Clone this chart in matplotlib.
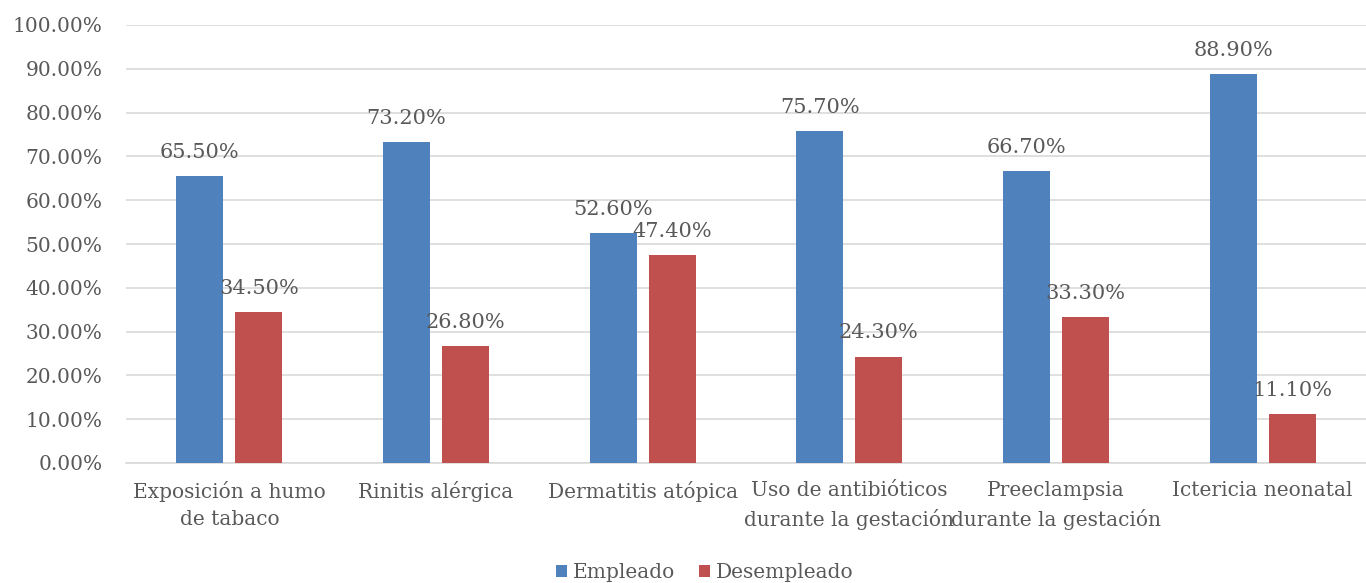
import numpy as np
import matplotlib.pyplot as plt
from matplotlib.ticker import PercentFormatter

# categories and percentages per employment status
categorias = ['Exposición a humo\nde tabaco', 'Rinitis alérgica', 'Dermatitis atópica',
              'Uso de antibióticos\ndurante la gestación', 'Preeclampsia\ndurante la gestación',
              'Ictericia neonatal']
empleado = [65.5, 73.2, 52.6, 75.7, 66.7, 88.9]
desempleado = [34.5, 26.8, 47.4, 24.3, 33.3, 11.1]

azul = '#4f81bd'
rojo = '#c0504d'
gris = '#595959'

plt.rcParams['font.family'] = ['DejaVu Serif']
plt.rcParams['font.size'] = 14.5

fig = plt.figure(figsize=(13.66, 5.83), dpi=100)
ax = fig.add_axes([126/1366., 120/583., 1 - 126/1366., 438/583.])

x = np.arange(len(categorias))
w = 0.227
off = 0.143
b1 = ax.bar(x - off, empleado, w, color=azul, label='Empleado', zorder=3)
b2 = ax.bar(x + off, desempleado, w, color=rojo, label='Desempleado', zorder=3)

# value labels above each bar
for bars, vals in ((b1, empleado), (b2, desempleado)):
  for b, v in zip(bars, vals):
    ax.annotate('%.2f%%' % v, (b.get_x() + b.get_width()/2., v),
                xytext=(0, 17), textcoords='offset points',
                ha='center', va='center', color=gris, fontsize=15, zorder=4)

ax.set_xlim(-0.5, len(categorias) - 0.5)
ax.set_ylim(0, 100)
ax.set_yticks(np.arange(0, 101, 10))
ax.yaxis.set_major_formatter(PercentFormatter(decimals=2))
ax.set_xticks(x)
ax.set_xticklabels(categorias, linespacing=1.5, va='top')
ax.tick_params(axis='both', length=0, colors=gris, labelsize=14.5)
ax.tick_params(axis='x', pad=13)
ax.tick_params(axis='y', pad=17)

ax.grid(axis='y', color='#d9d9d9', linewidth=1.2, zorder=0)
for s in ('top', 'right', 'left'):
  ax.spines[s].set_visible(False)
ax.spines['bottom'].set_color('#d9d9d9')
ax.spines['bottom'].set_linewidth(1.2)

leg = fig.legend(loc='lower center', bbox_to_anchor=(0.516, -0.03), ncol=2, frameon=False,
                 handlelength=0.55, handleheight=0.55, handletextpad=0.3, columnspacing=1.2,
                 fontsize=14.5)
for t in leg.get_texts():
  t.set_color(gris)

fig.savefig('out.png', dpi=100)
